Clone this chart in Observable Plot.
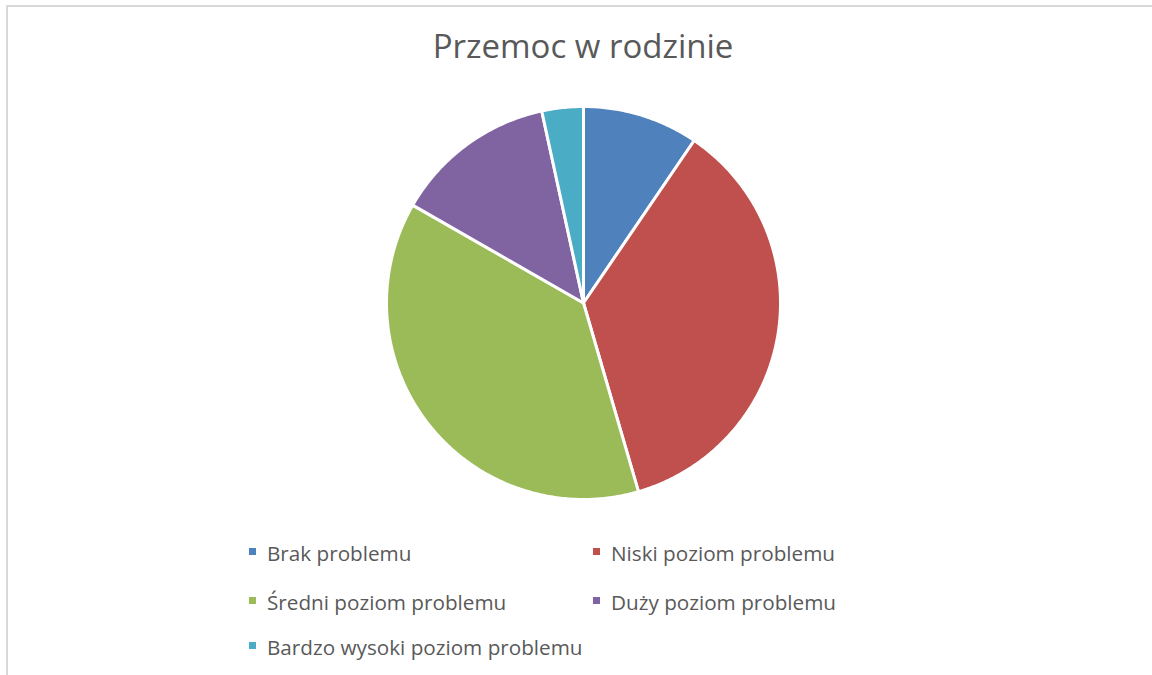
<!DOCTYPE html>
<html>
<head>
<meta charset="utf-8">
<script src="https://cdn.jsdelivr.net/npm/d3@7"></script>
<script src="https://cdn.jsdelivr.net/npm/@observablehq/plot@0.6"></script>
<style>
  html, body { margin: 0; padding: 0; background: #fff; width: 1152px; height: 675px; overflow: hidden; }
  body { font-family: "Open Sans", "Noto Sans", sans-serif; color: #595959; position: relative; }
  #frame { position: absolute; left: 6px; top: 5px; width: 1160px; height: 690px; border: 2px solid #d9d9d9; box-sizing: border-box; }
  #title { position: absolute; left: 0; width: 1166px; top: 26px; text-align: center; font-size: 33px; line-height: 40px; color: #595959; }
  #chart { position: absolute; left: 0; top: 0; }
  .leg { position: absolute; font-size: 20.7px; line-height: 24px; white-space: nowrap; color: #595959; }
  .sw { position: absolute; width: 7px; height: 7px; }
</style>
</head>
<body>
<div id="frame"></div>
<div id="chart"></div>
<div id="title">Przemoc w rodzinie</div>
<div id="legend"></div>
<script>
const categories = ["Brak problemu", "Niski poziom problemu", "Średni poziom problemu", "Duży poziom problemu", "Bardzo wysoki poziom problemu"];
const values = [9.5, 36.0, 37.8, 13.3, 3.4];
const colors = ["#4F81BD", "#C0504D", "#9BBB59", "#8064A2", "#4BACC6"];

// Build slice outlines from the pie layout (angles measured clockwise from 12 o'clock)
const arcs = d3.pie().sort(null).value(d => d.value)(categories.map((c, i) => ({key: c, value: values[i]})));
const pts = [];
for (const a of arcs) {
  const key = a.data.key;
  pts.push({key, x: 0, y: 0});
  const n = Math.max(2, Math.ceil((a.endAngle - a.startAngle) / 0.01));
  for (let k = 0; k <= n; k++) {
    const t = a.startAngle + (a.endAngle - a.startAngle) * k / n;
    pts.push({key, x: Math.sin(t), y: Math.cos(t)});
  }
  pts.push({key, x: 0, y: 0});
}

const plot = Plot.plot({
  width: 1152,
  height: 675,
  marginLeft: 386,
  marginRight: 372,
  marginTop: 106,
  marginBottom: 176,
  x: {domain: [-1, 1], axis: null},
  y: {domain: [-1, 1], axis: null},
  color: {domain: categories, range: colors},
  style: {background: "transparent"},
  marks: [
    Plot.line(pts, {x: "x", y: "y", z: "key", fill: "key", stroke: "white", strokeWidth: 3, strokeLinejoin: "round", curve: "linear"})
  ]
});
document.getElementById("chart").appendChild(plot);

// Legend (HTML), colours from the plot's colour scale
const color = plot.scale("color");
const legPos = [
  {sx: 249, tx: 267, y: 551},
  {sx: 593, tx: 611, y: 551},
  {sx: 249, tx: 267, y: 600},
  {sx: 593, tx: 611, y: 600},
  {sx: 249, tx: 267, y: 645}
];
const leg = document.getElementById("legend");
categories.forEach((c, i) => {
  const p = legPos[i];
  const sw = document.createElement("div");
  sw.className = "sw";
  sw.style.left = p.sx + "px";
  sw.style.top = (p.y - 3.5) + "px";
  sw.style.background = color.apply(c);
  leg.appendChild(sw);
  const t = document.createElement("div");
  t.className = "leg";
  t.style.left = p.tx + "px";
  t.style.top = (p.y - 10) + "px";
  t.textContent = c;
  leg.appendChild(t);
});
</script>
</body>
</html>
